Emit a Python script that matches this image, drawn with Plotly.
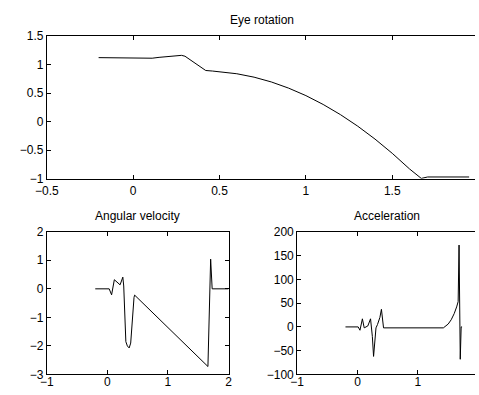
import plotly.graph_objects as go

# ---- data ----
eye_t = [-0.2, 0.05, 0.08, 0.11, 0.15, 0.2, 0.25, 0.28, 0.3, 0.34, 0.38, 0.42, 0.46, 0.5,
         0.6, 0.7, 0.8, 0.9, 1.0, 1.1, 1.2, 1.3, 1.4, 1.5, 1.6, 1.668, 1.705, 1.945]
eye_rot = [1.12, 1.12, 1.115, 1.11, 1.125, 1.14, 1.15, 1.16, 1.145, 1.06, 0.97, 0.895, 0.885, 0.875,
           0.838, 0.778, 0.694, 0.586, 0.455, 0.300, 0.122, -0.080, -0.306, -0.556, -0.829, -0.995, -0.97, -0.97]

vel_t = [-0.2, 0.03, 0.07, 0.115, 0.21, 0.255, 0.27, 0.29, 0.305, 0.33, 0.36, 0.385, 0.41, 0.44, 0.45,
         1.66, 1.705, 1.73, 2.0]
vel = [0, 0, -0.21, 0.32, 0.14, 0.41, 0.1, -1.2, -1.85, -2.0, -2.07, -1.9, -1.0, -0.3, -0.22,
       -2.72, 1.04, 0, 0]

acc_t = [-0.2, 0.01, 0.04, 0.08, 0.11, 0.17, 0.215, 0.245, 0.265, 0.29, 0.305, 0.33, 0.37, 0.395,
         0.415, 0.43, 1.42, 1.45, 1.5, 1.55, 1.6, 1.64, 1.665, 1.68, 1.7, 1.715, 1.73]
acc = [0, 0, -7, 17, -2, 2, 17, -20, -62, -15, -2, 5, 20, 37,
       15, -2, -2, 1, 6, 15, 28, 42, 53, 172, -68, 0, 0]

top_xticks = [-0.5, 0, 0.5, 1, 1.5]
top_yticks = [-1, -0.5, 0, 0.5, 1, 1.5]
vel_xticks = [-1, 0, 1, 2]
vel_yticks = [-3, -2, -1, 0, 1, 2]
acc_xticks = [-1, 0, 1]
acc_yticks = [-100, -50, 0, 50, 100, 150, 200]

W, H = 479, 395
def px(x): return x / W
def py(y): return 1 - y / H

def lab(v):
    return ("%g" % v).replace("-", "\u2212")

FONT = dict(family="Liberation Sans, Arial, sans-serif", size=12, color="black")

fig = go.Figure()
line = dict(color="black", width=1)
fig.add_trace(go.Scatter(x=eye_t, y=eye_rot, mode="lines", line=line, xaxis="x", yaxis="y"))
fig.add_trace(go.Scatter(x=vel_t, y=vel, mode="lines", line=line, xaxis="x2", yaxis="y2"))
fig.add_trace(go.Scatter(x=acc_t, y=acc, mode="lines", line=line, xaxis="x3", yaxis="y3"))

def ax(**kw):
    d = dict(showgrid=False, zeroline=False, showline=True, linecolor="black", linewidth=1,
             ticks="inside", ticklen=4, tickcolor="black", tickfont=FONT, tickmode="array",
             fixedrange=True)
    d.update(kw)
    return d

BOT = 381  # bottom spine of lower plots
top_xr = [-0.5, -0.5 + (479 - 36) / 178.7]
acc_xr = [-1, -1 + (479 - 295) / 62.5]

fig.update_layout(
    width=W, height=H, margin=dict(l=0, r=0, t=0, b=0), autosize=False,
    paper_bgcolor="white", plot_bgcolor="white", showlegend=False, font=FONT,
    xaxis=ax(domain=[px(36), 1], range=top_xr, tickvals=top_xticks,
             ticktext=[lab(v) for v in top_xticks], mirror="ticks", anchor="y",
             ticklabelstandoff=1),
    yaxis=ax(domain=[py(178), py(30)], range=[-1, 1.5], tickvals=top_yticks,
             ticktext=[lab(v) for v in top_yticks], mirror=False, anchor="x"),
    yaxis4=ax(overlaying="y", side="right", anchor="x", range=[-1, 1.5], tickvals=top_yticks,
              showline=False, showticklabels=False, ticklen=1),
    xaxis2=ax(domain=[px(36), px(224)], range=[-1, 2], tickvals=vel_xticks,
              ticktext=[lab(v) for v in vel_xticks], mirror="ticks", anchor="y2",
              ticklabelstandoff=-4),
    yaxis2=ax(domain=[py(BOT), py(233)], range=[-3, 2], tickvals=vel_yticks,
              ticktext=[lab(v) for v in vel_yticks], mirror="ticks", anchor="x2"),
    xaxis3=ax(domain=[px(295), 1], range=acc_xr, tickvals=acc_xticks,
              ticktext=[lab(v) for v in acc_xticks], mirror="ticks", anchor="y3",
              ticklabelstandoff=-4),
    yaxis3=ax(domain=[py(BOT), py(233)], range=[-100, 200], tickvals=acc_yticks,
              ticktext=[lab(v) for v in acc_yticks], mirror=False, anchor="x3"),
    yaxis5=ax(overlaying="y3", side="right", anchor="x3", range=[-100, 200], tickvals=acc_yticks,
              showline=False, showticklabels=False, ticklen=1),
    annotations=[
        dict(text="Eye rotation", x=px(259), y=py(13), xref="paper", yref="paper",
             showarrow=False, font=FONT, xanchor="center", yanchor="middle"),
        dict(text="Angular velocity", x=px(130), y=py(217), xref="paper", yref="paper",
             showarrow=False, font=FONT, xanchor="center", yanchor="middle"),
        dict(text="Acceleration", x=px(388), y=py(217), xref="paper", yref="paper",
             showarrow=False, font=FONT, xanchor="center", yanchor="middle"),
    ],
)

fig.write_html(
    "out.html",
    config={"displayModeBar": False, "responsive": False},
    post_script="document.body.style.margin='0';document.body.style.overflow='hidden';",
)
